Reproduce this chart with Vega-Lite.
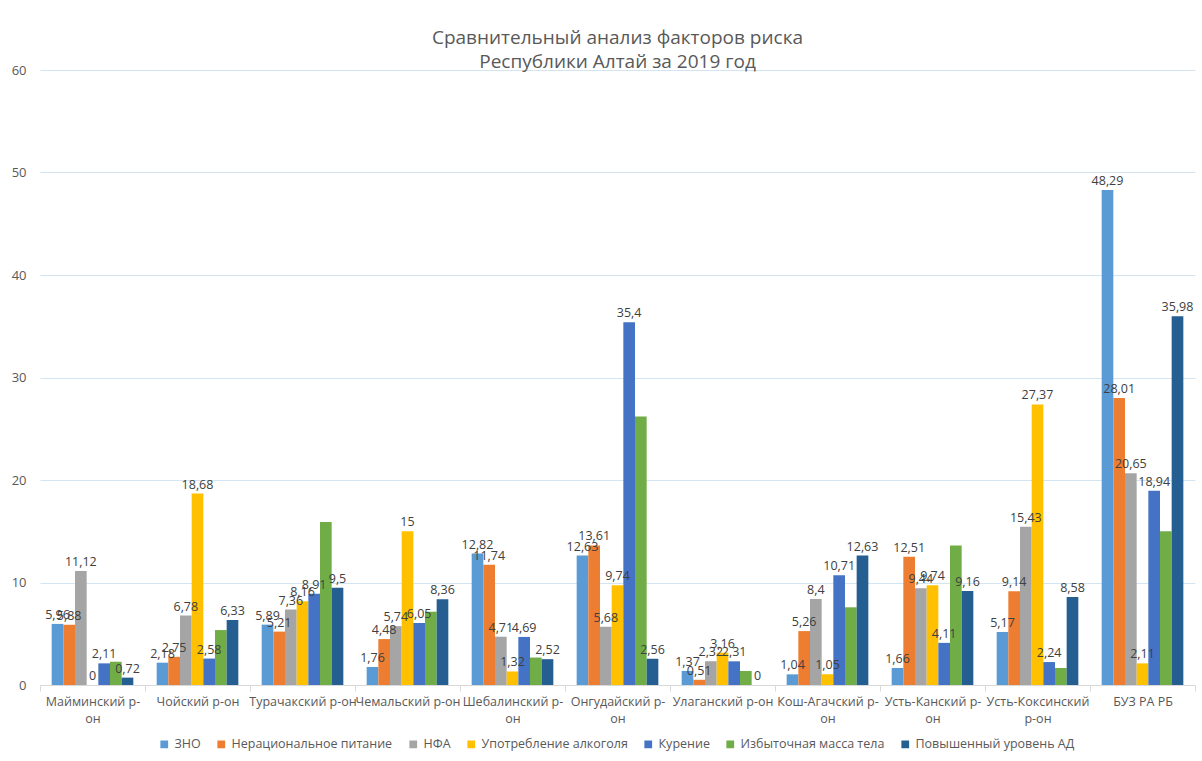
{
  "$schema": "https://vega.github.io/schema/vega-lite/v6.json",
  "autosize": "none",
  "width": 1155,
  "height": 615,
  "padding": {"left": 40, "top": 70, "right": 7, "bottom": 76},
  "background": "white",
  "config": {
    "locale": {"number": {"decimal": ",", "thousands": " ", "grouping": [3], "currency": ["", ""]}},
    "font": "Open Sans",
    "view": {"stroke": null}
  },
  "title": {
    "text": ["Сравнительный анализ факторов риска", "Республики Алтай за 2019 год"],
    "fontSize": 19,
    "fontWeight": "normal",
    "color": "#595959",
    "anchor": "middle",
    "offset": -8,
    "lineHeight": 24
  },
  "data": {"values": [
    {"district": "Майминский р-он", "factor": "ЗНО", "value": 5.96},
    {"district": "Майминский р-он", "factor": "Нерациональное питание", "value": 5.88},
    {"district": "Майминский р-он", "factor": "НФА", "value": 11.12},
    {"district": "Майминский р-он", "factor": "Употребление алкоголя", "value": 0},
    {"district": "Майминский р-он", "factor": "Курение", "value": 2.11},
    {"district": "Майминский р-он", "factor": "Избыточная масса тела", "value": 2.27},
    {"district": "Майминский р-он", "factor": "Повышенный уровень АД", "value": 0.72},
    {"district": "Чойский р-он", "factor": "ЗНО", "value": 2.18},
    {"district": "Чойский р-он", "factor": "Нерациональное питание", "value": 2.75},
    {"district": "Чойский р-он", "factor": "НФА", "value": 6.78},
    {"district": "Чойский р-он", "factor": "Употребление алкоголя", "value": 18.68},
    {"district": "Чойский р-он", "factor": "Курение", "value": 2.58},
    {"district": "Чойский р-он", "factor": "Избыточная масса тела", "value": 5.36},
    {"district": "Чойский р-он", "factor": "Повышенный уровень АД", "value": 6.33},
    {"district": "Турачакский р-он", "factor": "ЗНО", "value": 5.89},
    {"district": "Турачакский р-он", "factor": "Нерациональное питание", "value": 5.21},
    {"district": "Турачакский р-он", "factor": "НФА", "value": 7.36},
    {"district": "Турачакский р-он", "factor": "Употребление алкоголя", "value": 8.16},
    {"district": "Турачакский р-он", "factor": "Курение", "value": 8.91},
    {"district": "Турачакский р-он", "factor": "Избыточная масса тела", "value": 15.9},
    {"district": "Турачакский р-он", "factor": "Повышенный уровень АД", "value": 9.5},
    {"district": "Чемальский р-он", "factor": "ЗНО", "value": 1.76},
    {"district": "Чемальский р-он", "factor": "Нерациональное питание", "value": 4.48},
    {"district": "Чемальский р-он", "factor": "НФА", "value": 5.74},
    {"district": "Чемальский р-он", "factor": "Употребление алкоголя", "value": 15},
    {"district": "Чемальский р-он", "factor": "Курение", "value": 6.05},
    {"district": "Чемальский р-он", "factor": "Избыточная масса тела", "value": 7.15},
    {"district": "Чемальский р-он", "factor": "Повышенный уровень АД", "value": 8.36},
    {"district": "Шебалинский р-он", "factor": "ЗНО", "value": 12.82},
    {"district": "Шебалинский р-он", "factor": "Нерациональное питание", "value": 11.74},
    {"district": "Шебалинский р-он", "factor": "НФА", "value": 4.71},
    {"district": "Шебалинский р-он", "factor": "Употребление алкоголя", "value": 1.32},
    {"district": "Шебалинский р-он", "factor": "Курение", "value": 4.69},
    {"district": "Шебалинский р-он", "factor": "Избыточная масса тела", "value": 2.68},
    {"district": "Шебалинский р-он", "factor": "Повышенный уровень АД", "value": 2.52},
    {"district": "Онгудайский р-он", "factor": "ЗНО", "value": 12.63},
    {"district": "Онгудайский р-он", "factor": "Нерациональное питание", "value": 13.61},
    {"district": "Онгудайский р-он", "factor": "НФА", "value": 5.68},
    {"district": "Онгудайский р-он", "factor": "Употребление алкоголя", "value": 9.74},
    {"district": "Онгудайский р-он", "factor": "Курение", "value": 35.4},
    {"district": "Онгудайский р-он", "factor": "Избыточная масса тела", "value": 26.2},
    {"district": "Онгудайский р-он", "factor": "Повышенный уровень АД", "value": 2.56},
    {"district": "Улаганский р-он", "factor": "ЗНО", "value": 1.37},
    {"district": "Улаганский р-он", "factor": "Нерациональное питание", "value": 0.51},
    {"district": "Улаганский р-он", "factor": "НФА", "value": 2.32},
    {"district": "Улаганский р-он", "factor": "Употребление алкоголя", "value": 3.16},
    {"district": "Улаганский р-он", "factor": "Курение", "value": 2.31},
    {"district": "Улаганский р-он", "factor": "Избыточная масса тела", "value": 1.37},
    {"district": "Улаганский р-он", "factor": "Повышенный уровень АД", "value": 0},
    {"district": "Кош-Агачский р-он", "factor": "ЗНО", "value": 1.04},
    {"district": "Кош-Агачский р-он", "factor": "Нерациональное питание", "value": 5.26},
    {"district": "Кош-Агачский р-он", "factor": "НФА", "value": 8.4},
    {"district": "Кош-Агачский р-он", "factor": "Употребление алкоголя", "value": 1.05},
    {"district": "Кош-Агачский р-он", "factor": "Курение", "value": 10.71},
    {"district": "Кош-Агачский р-он", "factor": "Избыточная масса тела", "value": 7.58},
    {"district": "Кош-Агачский р-он", "factor": "Повышенный уровень АД", "value": 12.63},
    {"district": "Усть-Канский р-он", "factor": "ЗНО", "value": 1.66},
    {"district": "Усть-Канский р-он", "factor": "Нерациональное питание", "value": 12.51},
    {"district": "Усть-Канский р-он", "factor": "НФА", "value": 9.44},
    {"district": "Усть-Канский р-он", "factor": "Употребление алкоголя", "value": 9.74},
    {"district": "Усть-Канский р-он", "factor": "Курение", "value": 4.11},
    {"district": "Усть-Канский р-он", "factor": "Избыточная масса тела", "value": 13.6},
    {"district": "Усть-Канский р-он", "factor": "Повышенный уровень АД", "value": 9.16},
    {"district": "Усть-Коксинский р-он", "factor": "ЗНО", "value": 5.17},
    {"district": "Усть-Коксинский р-он", "factor": "Нерациональное питание", "value": 9.14},
    {"district": "Усть-Коксинский р-он", "factor": "НФА", "value": 15.43},
    {"district": "Усть-Коксинский р-он", "factor": "Употребление алкоголя", "value": 27.37},
    {"district": "Усть-Коксинский р-он", "factor": "Курение", "value": 2.24},
    {"district": "Усть-Коксинский р-он", "factor": "Избыточная масса тела", "value": 1.66},
    {"district": "Усть-Коксинский р-он", "factor": "Повышенный уровень АД", "value": 8.58},
    {"district": "БУЗ РА РБ", "factor": "ЗНО", "value": 48.29},
    {"district": "БУЗ РА РБ", "factor": "Нерациональное питание", "value": 28.01},
    {"district": "БУЗ РА РБ", "factor": "НФА", "value": 20.65},
    {"district": "БУЗ РА РБ", "factor": "Употребление алкоголя", "value": 2.11},
    {"district": "БУЗ РА РБ", "factor": "Курение", "value": 18.94},
    {"district": "БУЗ РА РБ", "factor": "Избыточная масса тела", "value": 15.0},
    {"district": "БУЗ РА РБ", "factor": "Повышенный уровень АД", "value": 35.98}
  ]},
  "encoding": {
    "x": {
      "field": "district",
      "type": "nominal",
      "sort": null,
      "scale": {"paddingInner": 0, "paddingOuter": 0},
      "axis": {
        "title": null,
        "labelAngle": 0,
        "domainColor": "#d9d9d9",
        "tickColor": "#d9d9d9",
        "tickBand": "extent",
        "tickSize": 6,
        "labelFontSize": 12.5,
        "labelColor": "#595959",
        "labelPadding": 4,
        "labelLineHeight": 17,
        "labelLimit": 200,
        "grid": false,
        "labelExpr": "indexof(['Майминский р-он','Шебалинский р-он','Онгудайский р-он','Кош-Агачский р-он','Усть-Канский р-он'], datum.label) >= 0 ? [replace(datum.label, ' р-он', ' р-'), 'он'] : (datum.label == 'Усть-Коксинский р-он' ? ['Усть-Коксинский', 'р-он'] : datum.label)"
      }
    },
    "xOffset": {
      "field": "factor",
      "type": "nominal",
      "scale": {
        "domain": ["ЗНО", "Нерациональное питание", "НФА", "Употребление алкоголя", "Курение", "Избыточная масса тела", "Повышенный уровень АД"],
        "paddingInner": 0,
        "paddingOuter": 1.05
      }
    },
    "y": {
      "field": "value",
      "type": "quantitative",
      "scale": {"domain": [0, 60]},
      "axis": {
        "title": null,
        "values": [0, 10, 20, 30, 40, 50, 60],
        "domain": false,
        "ticks": false,
        "labelPadding": 14,
        "grid": true,
        "gridColor": "#d3e4f3",
        "gridWidth": 1,
        "labelFontSize": 13,
        "labelColor": "#595959"
      }
    }
  },
  "layer": [
    {
      "mark": {"type": "bar"},
      "encoding": {
        "color": {
          "field": "factor",
          "type": "nominal",
          "scale": {
            "domain": ["ЗНО", "Нерациональное питание", "НФА", "Употребление алкоголя", "Курение", "Избыточная масса тела", "Повышенный уровень АД"],
            "range": ["#5b9bd5", "#ed7d31", "#a5a5a5", "#ffc000", "#4472c4", "#70ad47", "#255e91"]
          },
          "legend": {
            "title": null,
            "orient": "none",
            "legendX": 118,
            "legendY": 668,
            "direction": "horizontal",
            "symbolType": "square",
            "symbolSize": 60,
            "symbolStrokeWidth": 0,
            "labelFontSize": 12.5,
            "labelColor": "#595959",
            "labelLimit": 300,
            "labelOffset": 4,
            "columnPadding": 14
          }
        }
      }
    },
    {
      "transform": [{"filter": "datum.factor !== 'Избыточная масса тела'"}],
      "mark": {"type": "text", "dy": -9, "fontSize": 12.5, "color": "#404040"},
      "encoding": {
        "text": {"field": "value", "type": "quantitative", "format": "~g"}
      }
    }
  ]
}
